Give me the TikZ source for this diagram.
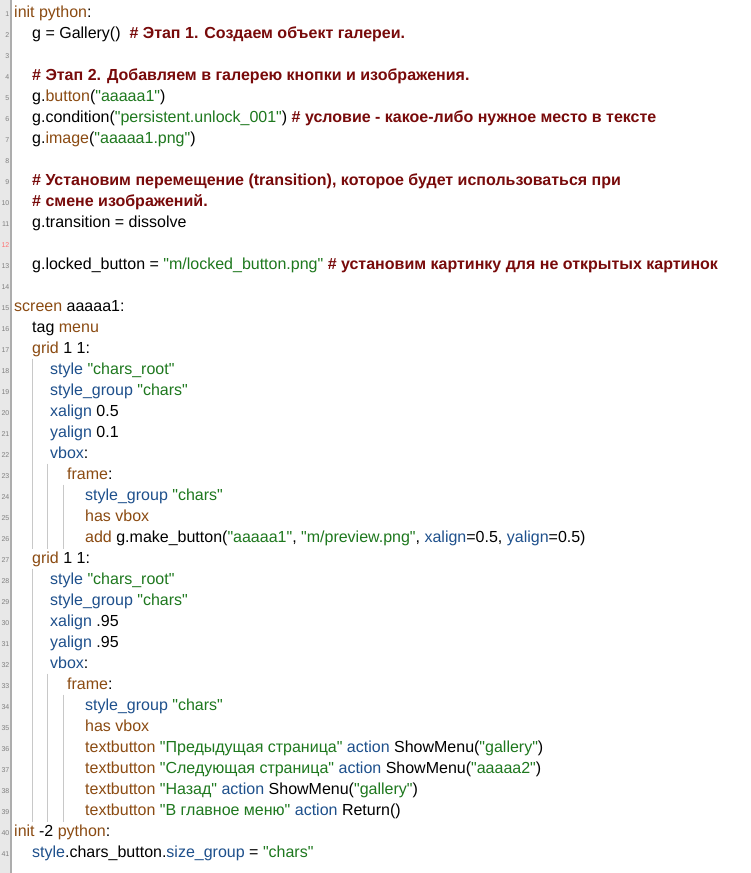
\documentclass[tikz,border=0pt]{standalone}
\usepackage{fontspec}
\newfontfamily\codefont{Liberation Sans}

\definecolor{kwbrown}{HTML}{8B4B12}
\definecolor{prblue}{HTML}{1E508C}
\definecolor{stgreen}{HTML}{1E781E}
\definecolor{cmred}{HTML}{780A0A}
\definecolor{gutterbg}{HTML}{E8E8E8}
\definecolor{gutterline}{HTML}{ADADAD}
\definecolor{guidegray}{HTML}{C8C8C8}

\newcommand{\ckw}[1]{\textcolor{kwbrown}{#1}}
\newcommand{\cpr}[1]{\textcolor{prblue}{#1}}
\newcommand{\cst}[1]{\textcolor{stgreen}{#1}}
\newcommand{\ccm}[1]{\textcolor{cmred}{\bfseries #1}}

\tikzset{
    code/.style={anchor=base west, inner sep=0pt, font=\codefont\fontsize{16}{16}\selectfont},
    lnum/.style={anchor=base east, inner sep=0pt, text=gray, font=\codefont\fontsize{7}{7}\selectfont},
    guide/.style={draw=guidegray, line width=1pt}
}

\begin{document}
\begin{tikzpicture}[x=1pt, y=-1pt]
    \useasboundingbox[fill=white] (0, 0) rectangle (751, 873);
    \fill[gutterbg] (0, 0) rectangle (10, 873);
    \fill[gutterline] (10, 0) rectangle (12, 873);

    \foreach \n in {1,...,41} {
        \ifnum\n=12
            \node[lnum, text=red!55] (n\n) at (9.5, 16 + 21*\n - 21) {\n};
        \else
            \node[lnum] (n\n) at (9.5, 16 + 21*\n - 21) {\n};
        \fi
    }

    \foreach \x/\a/\b in {32/18/26, 47.5/23/26, 63.5/24/26, 32/28/39, 47.5/33/39, 63.5/34/39}
        \draw[guide] (\x, 21*\a - 19.5) -- (\x, 21*\b + 3);

    \node[code] (l1) at (14, 17) {\ckw{init python}:};
    \node[code] (l2) at (32, 38) {g = Gallery()\ \ \ccm{\# Этап 1. Создаем объект галереи.}};
    \node[code] (l4) at (32, 80) {\ccm{\# Этап 2. Добавляем в галерею кнопки и изображения.}};
    \node[code] (l5) at (32, 101) {g.\ckw{button}(\cst{"aaaaa1"})};
    \node[code] (l6) at (32, 122) {g.condition(\cst{"persistent.unlock\_001"}) \ccm{\# условие - какое-либо нужное место в тексте}};
    \node[code] (l7) at (32, 143) {g.\ckw{image}(\cst{"aaaaa1.png"})};
    \node[code] (l9) at (32, 185) {\ccm{\# Установим перемещение (transition), которое будет использоваться при}};
    \node[code] (l10) at (32, 206) {\ccm{\# смене изображений.}};
    \node[code] (l11) at (32, 227) {g.transition = dissolve};
    \node[code] (l13) at (32, 269) {g.locked\_button = \cst{"m/locked\_button.png"} \ccm{\# установим картинку для не открытых картинок}};

    \node[code] (l15) at (14, 311) {\ckw{screen} aaaaa1:};
    \node[code] (l16) at (32, 332) {tag \ckw{menu}};
    \node[code] (l17) at (32, 353) {\ckw{grid} 1 1:};
    \node[code] (l18) at (50, 374) {\cpr{style} \cst{"chars\_root"}};
    \node[code] (l19) at (50, 395) {\cpr{style\_group} \cst{"chars"}};
    \node[code] (l20) at (50, 416) {\cpr{xalign} 0.5};
    \node[code] (l21) at (50, 437) {\cpr{yalign} 0.1};
    \node[code] (l22) at (50, 458) {\cpr{vbox}:};
    \node[code] (l23) at (67, 479) {\ckw{frame}:};
    \node[code] (l24) at (85, 500) {\cpr{style\_group} \cst{"chars"}};
    \node[code] (l25) at (85, 521) {\ckw{has vbox}};
    \node[code] (l26) at (85, 542) {\ckw{add} g.make\_button(\cst{"aaaaa1"}, \cst{"m/preview.png"}, \cpr{xalign}=0.5, \cpr{yalign}=0.5)};
    \node[code] (l27) at (32, 563) {\ckw{grid} 1 1:};
    \node[code] (l28) at (50, 584) {\cpr{style} \cst{"chars\_root"}};
    \node[code] (l29) at (50, 605) {\cpr{style\_group} \cst{"chars"}};
    \node[code] (l30) at (50, 626) {\cpr{xalign} .95};
    \node[code] (l31) at (50, 647) {\cpr{yalign} .95};
    \node[code] (l32) at (50, 668) {\cpr{vbox}:};
    \node[code] (l33) at (67, 689) {\ckw{frame}:};
    \node[code] (l34) at (85, 710) {\cpr{style\_group} \cst{"chars"}};
    \node[code] (l35) at (85, 731) {\ckw{has vbox}};
    \node[code] (l36) at (85, 752) {\ckw{textbutton} \cst{"Предыдущая страница"} \cpr{action} ShowMenu(\cst{"gallery"})};
    \node[code] (l37) at (85, 773) {\ckw{textbutton} \cst{"Следующая страница"} \cpr{action} ShowMenu(\cst{"aaaaa2"})};
    \node[code] (l38) at (85, 794) {\ckw{textbutton} \cst{"Назад"} \cpr{action} ShowMenu(\cst{"gallery"})};
    \node[code] (l39) at (85, 815) {\ckw{textbutton} \cst{"В главное меню"} \cpr{action} Return()};
    \node[code] (l40) at (14, 836) {\ckw{init} -2 \ckw{python}:};
    \node[code] (l41) at (32, 857) {\cpr{style}.chars\_button.\cpr{size\_group} = \cst{"chars"}};
\end{tikzpicture}
\end{document}
